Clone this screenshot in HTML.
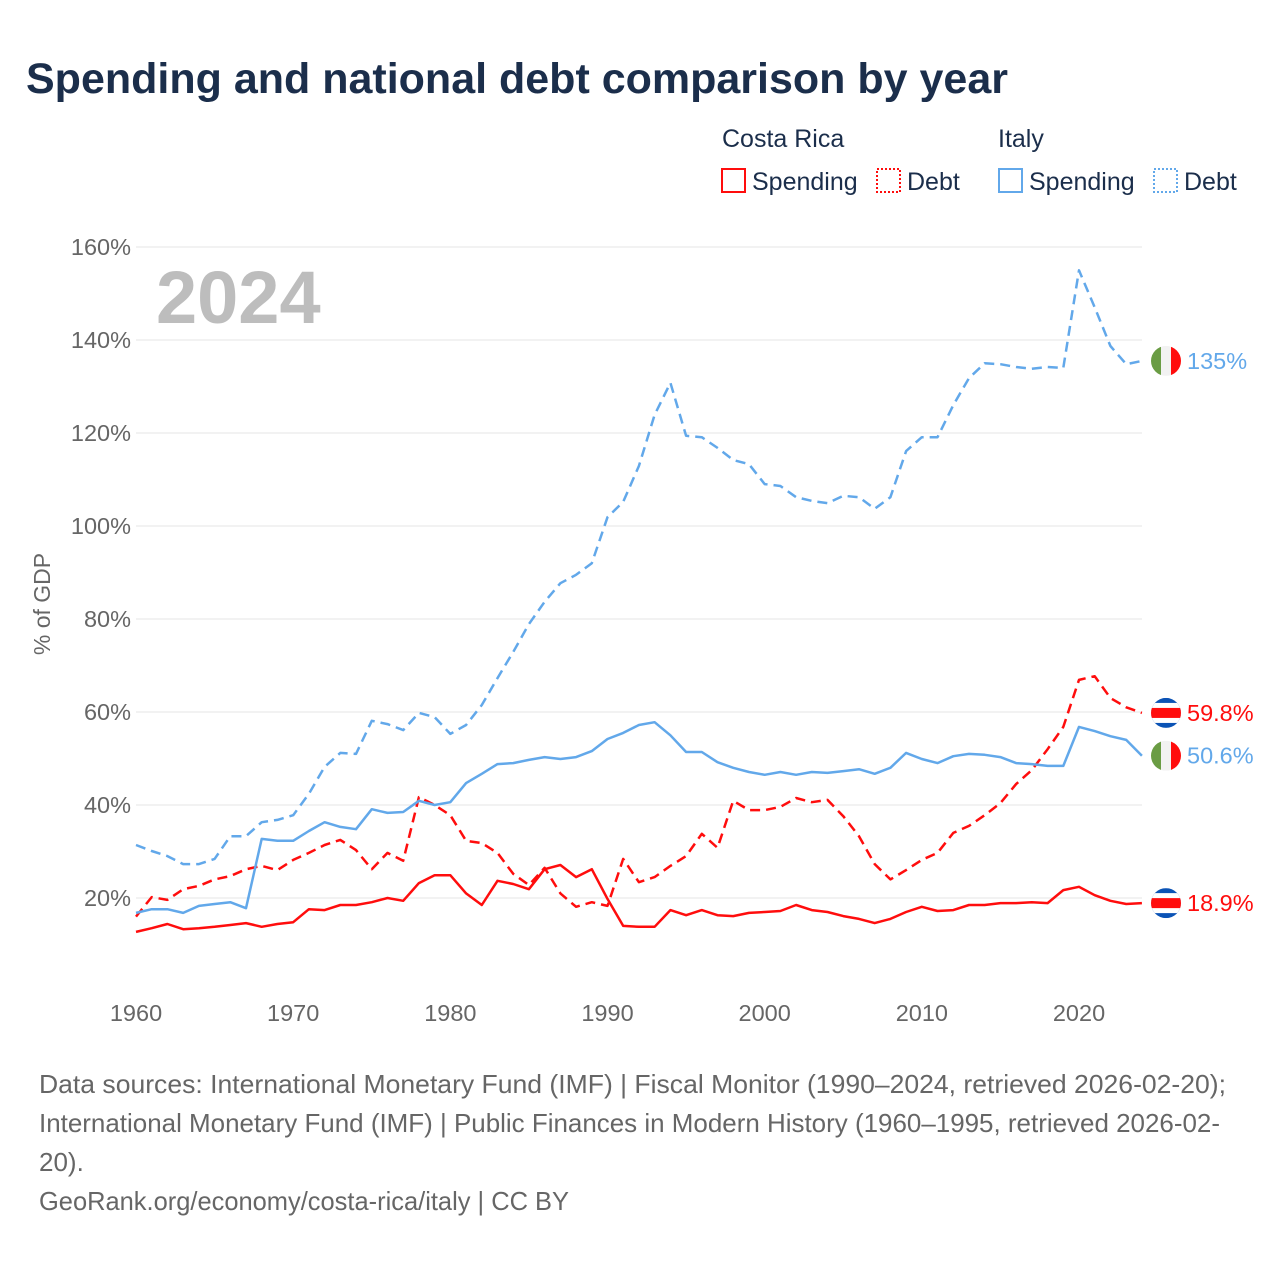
<!DOCTYPE html>
<html><head><meta charset="utf-8"><style>
body{margin:0;background:#fff;}
svg text{font-family:"Liberation Sans",sans-serif;}
</style></head><body>
<svg id="chart" width="1280" height="1280" viewBox="0 0 1280 1280" xmlns="http://www.w3.org/2000/svg">
<rect width="1280" height="1280" fill="#fff"/>
<text x="26" y="93" font-size="43" font-weight="bold" fill="#1b2e4b">Spending and national debt comparison by year</text>
<g font-size="25" fill="#1b2e4b">
<text x="722" y="147">Costa Rica</text>
<text x="998" y="147">Italy</text>
<g><rect x="722" y="169" width="23" height="23" fill="none" stroke="#ff0d0d" stroke-width="2"/><text x="752" y="190">Spending</text></g>
<g><rect x="877" y="169" width="23" height="23" fill="none" stroke="#ff0d0d" stroke-width="2" stroke-dasharray="2,2"/><text x="907" y="190">Debt</text></g>
<g><rect x="999" y="169" width="23" height="23" fill="none" stroke="#62a8ea" stroke-width="2"/><text x="1029" y="190">Spending</text></g>
<g><rect x="1154" y="169" width="23" height="23" fill="none" stroke="#62a8ea" stroke-width="2" stroke-dasharray="2,2"/><text x="1184" y="190">Debt</text></g>
</g>
<g id="grid"></g>
<text x="156" y="323" font-size="74" font-weight="bold" fill="#bdbdbd">2024</text>
<text transform="translate(50,604) rotate(-90)" text-anchor="middle" font-size="23" fill="#666">% of GDP</text>
<g id="series"></g>
<g id="ends"></g>
<g font-size="26" fill="#666">
<text x="39" y="1093" textLength="1187" lengthAdjust="spacingAndGlyphs">Data sources: International Monetary Fund (IMF) | Fiscal Monitor (1990–2024, retrieved 2026-02-20);</text>
<text x="39" y="1132" textLength="1181" lengthAdjust="spacingAndGlyphs">International Monetary Fund (IMF) | Public Finances in Modern History (1960–1995, retrieved 2026-02-</text>
<text x="39" y="1171">20).</text>
<text x="39" y="1210" textLength="530" lengthAdjust="spacingAndGlyphs">GeoRank.org/economy/costa-rica/italy | CC BY</text>
</g>
</svg>
<script>
const years = [];
for (let y = 1960; y <= 2024; y++) years.push(y);
const yTicks = [20,40,60,80,100,120,140,160];
const xTicks = [1960,1970,1980,1990,2000,2010,2020];
const crSpending = [12.7,13.5,14.4,13.3,13.5,13.8,14.2,14.6,13.8,14.4,14.8,17.6,17.4,18.5,18.5,19.1,20,19.4,23.2,24.9,24.9,21,18.5,23.7,23,21.9,26.2,27.1,24.5,26.2,19.8,14,13.8,13.8,17.4,16.3,17.4,16.3,16.1,16.8,17,17.2,18.5,17.4,17,16.1,15.5,14.6,15.5,17,18.1,17.2,17.4,18.5,18.5,18.9,18.9,19.1,18.9,21.7,22.4,20.6,19.4,18.7,18.9];
const crDebt = [16,20.2,19.6,21.9,22.6,24,24.7,26.2,26.9,26,28.2,29.7,31.4,32.5,30.3,26.2,29.7,28,41.7,40,37.8,32.3,31.8,29.7,25.2,22.8,26.5,21,18.1,19.1,18.3,28.4,23.4,24.5,26.9,29,33.8,30.8,40.9,38.9,38.9,39.6,41.5,40.6,41.1,37.6,33.3,27.3,24,26,28.2,29.7,34,35.5,37.8,40.4,44.5,47.5,52,56.8,66.9,67.7,63,61,59.8];
const itSpending = [16.8,17.6,17.6,16.8,18.3,18.7,19.1,17.8,32.7,32.3,32.3,34.4,36.3,35.3,34.8,39.1,38.3,38.5,40.9,40,40.6,44.7,46.7,48.8,49,49.7,50.3,49.9,50.3,51.6,54.2,55.5,57.2,57.8,55,51.4,51.4,49.2,48,47.1,46.5,47.1,46.5,47.1,46.9,47.3,47.7,46.7,48,51.2,49.9,49,50.5,51,50.8,50.3,49,48.8,48.4,48.4,56.8,55.9,54.8,54,50.6];
const itDebt = [31.4,30.1,29,27.3,27.3,28.4,33.3,33.3,36.3,36.8,37.8,42.4,48.2,51.2,51,58.1,57.4,56.1,59.8,58.9,55.3,57.2,61.5,67.3,72.9,78.9,83.7,87.7,89.5,92,101.9,105.2,112.9,123.9,130.8,119.4,119.1,116.8,114.2,113.3,109,108.6,106.2,105.4,104.9,106.5,106.2,103.7,106.2,116.1,119.1,119.1,126,131.8,135,134.8,134.2,133.8,134.2,134,155,147,138.7,134.8,135.5];
const endLabels = ["18.9%","59.8%","50.6%","135%"];

const NS = "http://www.w3.org/2000/svg";
const xs = y => 136 + (y - 1960) * (1079 - 136) / 60;
const ys = v => 991 - v * 4.65;
function mk(tag, attrs, parent){const e=document.createElementNS(NS,tag);for(const k in attrs)e.setAttribute(k,attrs[k]);parent.appendChild(e);return e;}
const grid = document.getElementById('grid');
yTicks.forEach(t=>{
  const l = mk('line',{x1:136,x2:1142,y1:ys(t),y2:ys(t),stroke:'#e6e6e6','stroke-width':1},grid);
  
  
  const tx = mk('text',{x:131,y:ys(t)+8,'text-anchor':'end','font-size':23.5,fill:'#666'},grid);
  tx.textContent = t+'%';
  
  
});
xTicks.forEach(t=>{
  const tx = mk('text',{x:xs(t),y:1021,'text-anchor':'middle','font-size':23.5,fill:'#666'},grid);
  tx.textContent = t;
  
  
});
const series = document.getElementById('series');
function line(vals,color,dash,name){
  const d = vals.map((v,i)=>(i?'L':'M')+xs(years[i]).toFixed(1)+','+ys(v).toFixed(1)).join('');
  const p = mk('path',{d:d,fill:'none',stroke:color,'stroke-width':2.5,'stroke-linejoin':'round'},series);
  if(dash) p.setAttribute('stroke-dasharray','10,6');
  
  
}
line(crSpending,'#ff0d0d',false,'line-costa-rica-spending');
line(crDebt,'#ff0d0d',true,'line-costa-rica-debt');
line(itSpending,'#62a8ea',false,'line-italy-spending');
line(itDebt,'#62a8ea',true,'line-italy-debt');

const ends = document.getElementById('ends');
function crFlag(cy){
  const g = mk('g',{},ends);
  
  
  const cp = mk('clipPath',{id:'c'+Math.round(cy)},g);
  mk('circle',{cx:1166,cy:cy,r:15},cp);
  const gg = mk('g',{'clip-path':'url(#c'+Math.round(cy)+')'},g);
  mk('rect',{x:1151,y:cy-15,width:30,height:30,fill:'#0b53b5'},gg);
  mk('rect',{x:1151,y:cy-10,width:30,height:20,fill:'#fff'},gg);
  mk('rect',{x:1151,y:cy-5,width:30,height:10,fill:'#ff0d0d'},gg);
}
function itFlag(cy){
  const g = mk('g',{},ends);
  
  
  const cp = mk('clipPath',{id:'i'+Math.round(cy)},g);
  mk('circle',{cx:1166,cy:cy,r:15},cp);
  const gg = mk('g',{'clip-path':'url(#i'+Math.round(cy)+')'},g);
  mk('rect',{x:1151,y:cy-15,width:10,height:30,fill:'#6a9c44'},gg);
  mk('rect',{x:1161,y:cy-15,width:10,height:30,fill:'#f2f2f2'},gg);
  mk('rect',{x:1171,y:cy-15,width:10,height:30,fill:'#ff0d0d'},gg);
}
const last = [crSpending, crDebt, itSpending, itDebt].map(a=>a[a.length-1]);
const colors = ['#ff0d0d','#ff0d0d','#62a8ea','#62a8ea'];
last.forEach((v,i)=>{
  const cy = ys(v);
  if(i<2) crFlag(cy); else itFlag(cy);
  const t = mk('text',{x:1187,y:cy+8,'font-size':23.5,fill:colors[i]},ends);
  t.textContent = endLabels[i];
  
  
});
</script>
</body></html>
